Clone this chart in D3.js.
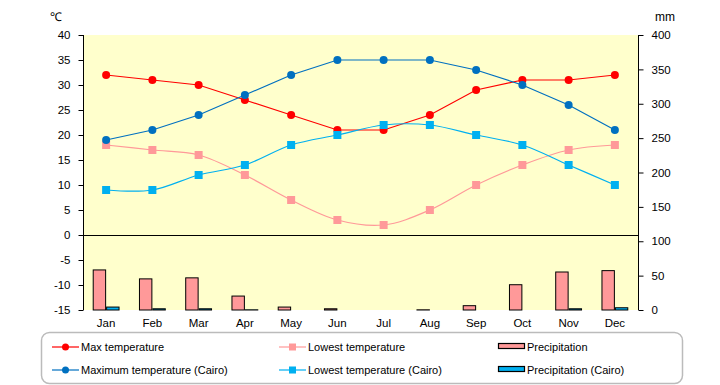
<!DOCTYPE html>
<html>
<head>
<meta charset="utf-8">
<script src="https://cdn.jsdelivr.net/npm/d3@7"></script>
<style>
  body { margin: 0; background: #fff; }
  text { font-family: "Liberation Sans", Arial, sans-serif; }
</style>
</head>
<body>
<div id="chart"></div>
<script>
// chart data
const months = ['Jan', 'Feb', 'Mar', 'Apr', 'May', 'Jun', 'Jul', 'Aug', 'Sep', 'Oct', 'Nov', 'Dec'];
const maxTemp = [32, 31, 30, 27, 24, 21, 21, 24, 29, 31, 31, 32];
const lowTemp = [18, 17, 16, 12, 7, 3, 2, 5, 10, 14, 17, 18];
const maxTempCairo = [19, 21, 24, 28, 32, 35, 35, 35, 33, 30, 26, 21];
const lowTempCairo = [9, 9, 12, 14, 18, 20, 22, 22, 20, 18, 14, 10];
const precip = [59, 46, 47.5, 21, 5, 2.5, 0, 1, 7, 37.5, 56, 58];
const precipCairo = [5, 2.5, 2.5, 1, 0, 0, 0, 0, 0, 0, 2.5, 4];
const tempTicks = [-15, -10, -5, 0, 5, 10, 15, 20, 25, 30, 35, 40];
const precipTicks = [0, 50, 100, 150, 200, 250, 300, 350, 400];

const W = 720, H = 385;
const pL = 83, pR = 638, pT = 35, pB = 310;

const svg = d3.select('#chart').append('svg')
    .attr('width', W)
    .attr('height', H);

// scales
const x = d3.scaleBand().domain(months).range([pL, pR]).paddingInner(0.42).paddingOuter(0.21);
const xc = m => x(m) + x.bandwidth() / 2;
const xs = d3.scaleBand().domain(['a', 'b']).range([0, x.bandwidth()]);
const yT = d3.scaleLinear().domain([-15, 40]).range([pB, pT]);
const yP = d3.scaleLinear().domain([0, 400]).range([pB, pT]);

// plot background
svg.append('rect')
    .attr('x', pL).attr('y', pT)
    .attr('width', pR - pL).attr('height', pB - pT)
    .attr('fill', '#FFFFCC');

// bars
const barData = [
    { key: 'a', vals: precip, fill: '#FF9999' },
    { key: 'b', vals: precipCairo, fill: '#00B0F0' }
];
barData.forEach(s => {
    svg.append('g').selectAll('rect')
        .data(s.vals.map((v, i) => ({ m: months[i], v })).filter(d => d.v > 0))
        .enter().append('rect')
        .attr('x', d => x(d.m) + xs(s.key) + 0.5)
        .attr('y', d => yP(d.v) + 0.5)
        .attr('width', xs.bandwidth() - 1)
        .attr('height', d => Math.max(0, yP(0) - yP(d.v) - 0.5))
        .attr('fill', s.fill)
        .attr('stroke', '#000')
        .attr('stroke-width', 1);
});

// zero line
svg.append('line')
    .attr('x1', pL).attr('x2', pR)
    .attr('y1', Math.round(yT(0)) + 0.5).attr('y2', Math.round(yT(0)) + 0.5)
    .attr('stroke', '#000');

// axes
const axL = svg.append('g')
    .attr('transform', `translate(${pL + 0.5},0)`)
    .call(d3.axisLeft(yT).tickValues(tempTicks).tickSize(5).tickPadding(8).tickFormat(d => d < 0 ? '-' + Math.abs(d) : d));
const axR = svg.append('g')
    .attr('transform', `translate(${pR + 0.5},0)`)
    .call(d3.axisRight(yP).tickValues(precipTicks).tickSize(5).tickPadding(8));
[axL, axR].forEach(a => {
    a.select('.domain').attr('d', `M0,${pT}V${pB}`).attr('stroke', '#000');
    a.selectAll('text').attr('font-size', 11.5).attr('fill', '#000');
    a.selectAll('line').attr('stroke', '#000');
});

// month labels
svg.append('g').selectAll('text')
    .data(months)
    .enter().append('text')
    .attr('x', d => xc(d))
    .attr('y', 327)
    .attr('text-anchor', 'middle')
    .attr('font-size', 11.5)
    .text(d => d);

// unit labels
svg.append('text').attr('x', 50).attr('y', 21).attr('font-size', 12).text('\u2103');
svg.append('text').attr('x', 655).attr('y', 21).attr('font-size', 12).text('mm');

// lines
const lineSeries = [
    { vals: maxTemp, color: '#FF0000', curve: d3.curveLinear, shape: 'circle' },
    { vals: lowTemp, color: '#FF9999', curve: d3.curveCatmullRom, shape: 'square' },
    { vals: maxTempCairo, color: '#0070C0', curve: d3.curveLinear, shape: 'circle' },
    { vals: lowTempCairo, color: '#00B0F0', curve: d3.curveCatmullRom, shape: 'square' }
];
lineSeries.forEach(s => {
    const pts = s.vals.map((v, i) => [xc(months[i]), yT(v)]);
    svg.append('path')
        .attr('d', d3.line().curve(s.curve)(pts))
        .attr('fill', 'none')
        .attr('stroke', s.color)
        .attr('stroke-width', 1.2);
    const g = svg.append('g');
    if (s.shape === 'circle') {
        g.selectAll('circle').data(pts).enter().append('circle')
            .attr('cx', d => d[0]).attr('cy', d => d[1]).attr('r', 4)
            .attr('fill', s.color);
    } else {
        g.selectAll('rect').data(pts).enter().append('rect')
            .attr('x', d => d[0] - 4).attr('y', d => d[1] - 4)
            .attr('width', 8).attr('height', 8)
            .attr('fill', s.color);
    }
});

// legend
const lg = svg.append('g');
lg.append('rect')
    .attr('x', 41.5).attr('y', 332.5)
    .attr('width', 641).attr('height', 51)
    .attr('rx', 8)
    .attr('fill', '#fff')
    .attr('stroke', '#BBBBBB')
    .attr('stroke-width', 1.5);

const legendItems = [
    { label: 'Max temperature', color: '#FF0000', type: 'circle', col: 0, row: 0 },
    { label: 'Lowest temperature', color: '#FF9999', type: 'square', col: 1, row: 0 },
    { label: 'Precipitation', color: '#FF9999', type: 'bar', col: 2, row: 0 },
    { label: 'Maximum temperature (Cairo)', color: '#0070C0', type: 'circle', col: 0, row: 1 },
    { label: 'Lowest temperature (Cairo)', color: '#00B0F0', type: 'square', col: 1, row: 1 },
    { label: 'Precipitation (Cairo)', color: '#00B0F0', type: 'bar', col: 2, row: 1 }
];
const colX = [52, 279, 498];
const rowY = [347, 370];
legendItems.forEach(d => {
    const gx = colX[d.col], gy = rowY[d.row];
    if (d.type === 'bar') {
        lg.append('rect')
            .attr('x', gx + 0.5).attr('y', gy - 3.5)
            .attr('width', 26).attr('height', 5)
            .attr('fill', d.color).attr('stroke', '#000').attr('stroke-width', 1.2);
    } else {
        lg.append('line')
            .attr('x1', gx).attr('x2', gx + 27)
            .attr('y1', gy).attr('y2', gy)
            .attr('stroke', d.color).attr('stroke-width', 1.2);
        if (d.type === 'circle') {
            lg.append('circle').attr('cx', gx + 13.5).attr('cy', gy).attr('r', 3.5).attr('fill', d.color);
        } else {
            lg.append('rect').attr('x', gx + 10).attr('y', gy - 3.5).attr('width', 7).attr('height', 7).attr('fill', d.color);
        }
    }
    lg.append('text')
        .attr('x', gx + 29).attr('y', gy + 4)
        .attr('font-size', 11)
        .text(d.label);
});
</script>
</body>
</html>
